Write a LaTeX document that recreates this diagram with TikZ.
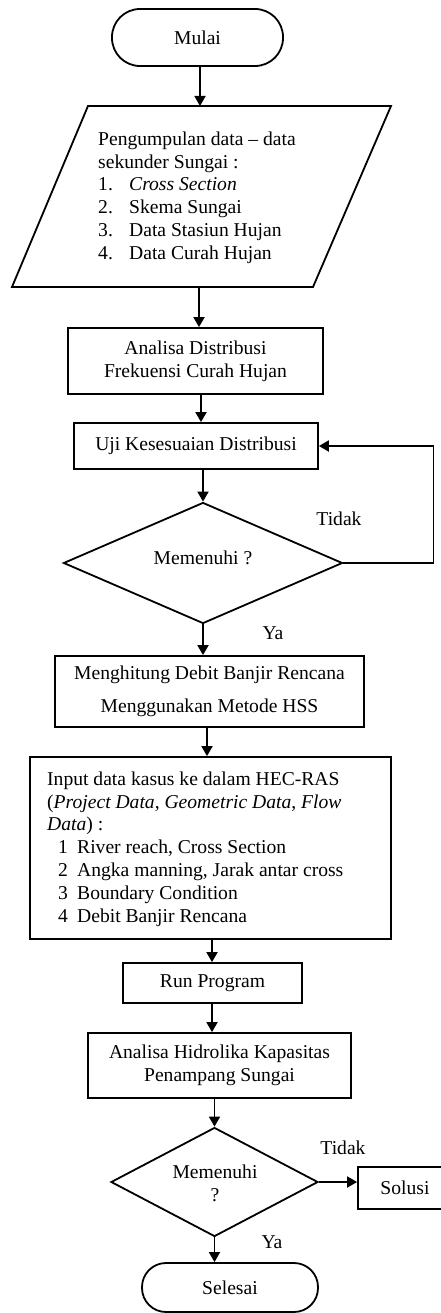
\documentclass[tikz,border=0pt]{standalone}
\usepackage{fontspec}
\setmainfont{Liberation Serif}
\usetikzlibrary{arrows.meta,shapes.geometric}
\begin{document}
\begin{tikzpicture}[x=1pt,y=-1pt,
  every node/.style={font=\fontsize{19.6}{22.8}\selectfont},
  ln/.style={line width=1.8pt},
  box/.style={draw,line width=1.8pt,inner sep=0pt,align=center},
  term/.style={draw,line width=1.8pt,inner sep=0pt},
  dec/.style={draw,diamond,line width=1.8pt,inner sep=0pt,align=center},
  arr/.style={line width=1.8pt,-{Triangle[length=10pt,width=11pt]}},
  lbl/.style={inner sep=0pt}]
\useasboundingbox (0,0) rectangle (440,1313);
% start
\node[term,minimum width=171pt,minimum height=57pt,rounded corners=28pt] (mulai) at (197.5,37.5) {Mulai};
% parallelogram
\coordinate (p1) at (88,106);
\coordinate (p2) at (391,106);
\coordinate (p3) at (313,287);
\coordinate (p4) at (12,287);
\coordinate (ptop) at (200,106);
\coordinate (pbot) at (199,287);
\draw[ln,line join=miter] (p1) -- (p2) -- (p3) -- (p4) -- cycle;
\node[lbl,align=left,anchor=west] (ptxt) at (98,197.5) {Pengumpulan data -- data\\sekunder Sungai :\\\makebox[31pt][l]{1.}\textit{Cross Section}\\\makebox[31pt][l]{2.}Skema Sungai\\\makebox[31pt][l]{3.}Data Stasiun Hujan\\\makebox[31pt][l]{4.}Data Curah Hujan};
% boxes
\node[box,minimum width=255pt,minimum height=66pt] (an) at (195.5,361) {Analisa Distribusi\\Frekuensi Curah Hujan};
\node[box,minimum width=244pt,minimum height=46pt] (uji) at (196,446) {Uji Kesesuaian Distribusi};
\node[dec,minimum width=279pt,minimum height=121pt] (d1) at (203,563) {};
\node[lbl] (d1t) at (203,558) {Memenuhi ?};
\node[box,minimum width=309pt,minimum height=71pt,font=\fontsize{19.6}{33}\selectfont] (hit) at (209.5,691.5) {Menghitung Debit Banjir Rencana\\Menggunakan Metode HSS};
\node[box,minimum width=361pt,minimum height=182pt] (inp) at (210.5,848) {};
\node[lbl,align=left,anchor=west] (inptxt) at (47,849) {Input data kasus ke dalam HEC-RAS\\(\textit{Project Data}, \textit{Geometric Data}, \textit{Flow}\\\textit{Data}) :\\\hspace*{11pt}\makebox[19pt][l]{1}River reach, Cross Section\\\hspace*{11pt}\makebox[19pt][l]{2}Angka manning, Jarak antar cross\\\hspace*{11pt}\makebox[19pt][l]{3}Boundary Condition\\\hspace*{11pt}\makebox[19pt][l]{4}Debit Banjir Rencana};
\node[box,minimum width=179pt,minimum height=40pt] (run) at (212.5,983) {Run Program};
\node[box,minimum width=263pt,minimum height=65pt] (hid) at (219.5,1065.5) {Analisa Hidrolika Kapasitas\\Penampang Sungai};
\node[dec,minimum width=207pt,minimum height=109pt] (d2) at (214.5,1182) {};
\node[lbl,align=center] (d2t) at (215,1183) {Memenuhi\\?};
\node[box,minimum width=94pt,minimum height=42pt] (sol) at (405,1188) {Solusi};
\node[term,minimum width=176pt,minimum height=49pt,rounded corners=24pt] (sel) at (230,1287.5) {Selesai};
% labels
\node[lbl] (t1) at (339,519) {Tidak};
\node[lbl] (y1) at (273,633) {Ya};
\node[lbl] (t2) at (343,1148) {Tidak};
\node[lbl] (y2) at (272,1242) {Ya};
% connectors
\draw[arr] (mulai.south -| ptop) -- (ptop);
\draw[arr] (pbot) -- (pbot |- an.north);
\draw[arr] (an.south -| 201,0) -- (uji.north -| 201,0);
\draw[arr] (uji.south -| d1) -- (d1.north);
\draw[arr] (d1.east) -- ++(90,0) |- (uji.east);
\draw[arr] (d1.south) -- (d1.south |- hit.north);
\draw[arr] (hit.south -| 207,0) -- (inp.north -| 207,0);
\draw[arr] (inp.south -| 212,0) -- (run.north -| 212,0);
\draw[arr] (run.south -| 212,0) -- (hid.north -| 212,0);
\draw[arr] (hid.south -| d2) -- (d2.north);
\draw[arr] (d2.east) -- (d2.east -| sol.west);
\draw[arr] (d2.south) -- (d2.south |- sel.north);
\end{tikzpicture}
\end{document}
